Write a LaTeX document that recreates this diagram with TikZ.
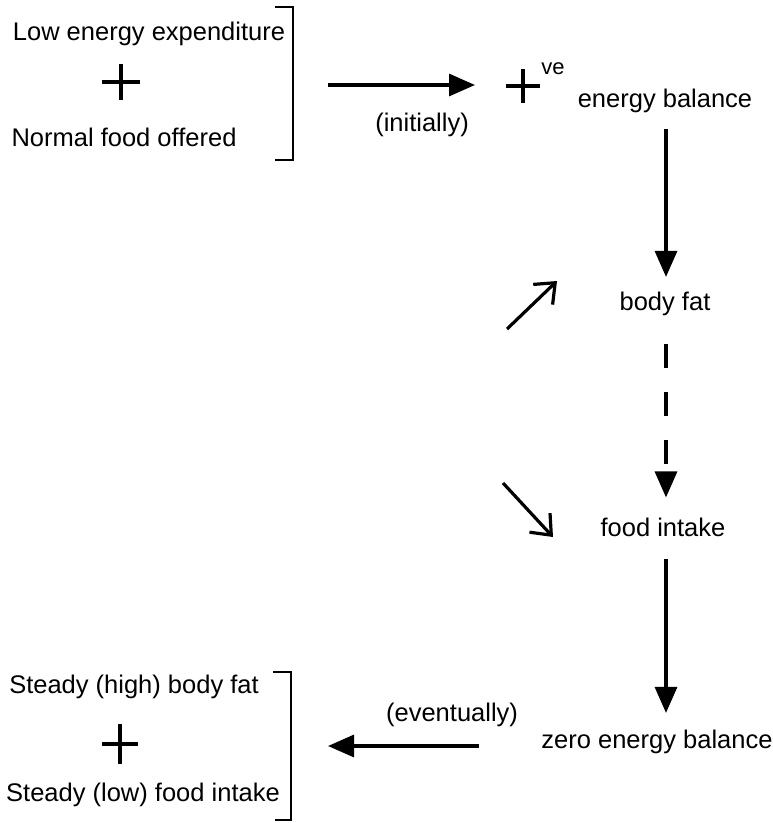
\documentclass[tikz,border=0pt]{standalone}
\usepackage{fontspec}
\setmainfont{Liberation Sans}
\usetikzlibrary{arrows.meta}
\tikzset{
  lbl/.style={font=\fontsize{25.5}{30}\selectfont, inner sep=0pt},
  fat/.style={line width=3.2pt, -{Triangle[length=26pt,width=22pt]}},
  barb/.style={line width=3.2pt, -{Straight Barb[length=17pt,width=28pt]}},
  brk/.style={line width=2.8pt},
  cross/.style={line width=3.2pt},
}
\begin{document}
\begin{tikzpicture}[x=1pt,y=-1pt]
    \useasboundingbox (0,0) rectangle (773,823);

    % starting conditions
    \node[lbl] (lee) at (149,34) {Low energy expenditure};
    \node[lbl] (nfo) at (124,137) {Normal food offered};
    \coordinate (p1) at (121,82);
    \draw[cross] (p1) ++(-19,0) -- ++(38,0) (p1) ++(0,-18) -- ++(0,36);
    \draw[brk] (275,7) -- (293,7) -- (293,160) -- (275,160);
    \coordinate (br1) at (293,85);

    % +ve energy balance
    \coordinate (pv) at (523,86);
    \draw[cross] (pv) ++(-17,0) -- ++(34,0) (pv) ++(0,-17) -- ++(0,34);
    \node[lbl, font=\fontsize{22}{26}\selectfont] (ve) at (553,69) {ve};
    \node[lbl] (eb) at (665,101) {energy balance};
    \draw[fat] ([xshift=35pt]br1) -- ([xshift=-48pt]pv |- br1)
        node[lbl, pos=0.64, below=26pt] (init) {(initially)};

    % chain down the right side
    \node[lbl] (bf) at (665,304) {body fat};
    \node[lbl] (fi) at (663,527) {food intake};
    \node[lbl] (zeb) at (657,742) {zero energy balance};
    \draw[fat] ([xshift=1pt,yshift=-16pt]eb.south) -- ([xshift=1pt,yshift=15pt]bf.north);
    \draw[fat, dash pattern=on 24pt off 24pt] ([xshift=1pt,yshift=-28pt]bf.south) -- ([xshift=3pt,yshift=20pt]fi.north);
    \draw[fat] ([xshift=3pt,yshift=-22pt]fi.south) -- ([xshift=9pt,yshift=17pt]zeb.north);

    % side arrows
    \coordinate (d1) at (507,329);
    \coordinate (d2) at (557,281);
    \coordinate (d3) at (503,483);
    \coordinate (d4) at (553,537);
    \draw[barb] (d1) -- (d2);
    \draw[barb] (d3) -- (d4);

    % final state
    \node[lbl] (shb) at (134,687) {Steady (high) body fat};
    \node[lbl] (slf) at (143,795) {Steady (low) food intake};
    \coordinate (p2) at (120,744);
    \draw[cross] (p2) ++(-18,0) -- ++(36,0) (p2) ++(0,-20) -- ++(0,40);
    \draw[brk] (273,672) -- (291,672) -- (291,820) -- (275,820);
    \coordinate (br2) at (291,746);
    \draw[fat] ([xshift=-62pt]zeb.west |- br2) -- ([xshift=37pt]br2)
        node[lbl, pos=0.18, above=18pt] (even) {(eventually)};
\end{tikzpicture}
\end{document}
